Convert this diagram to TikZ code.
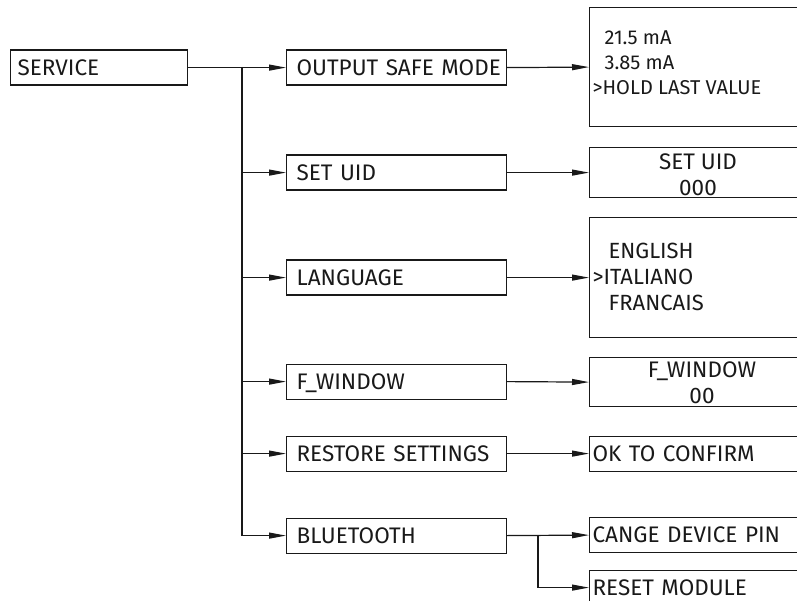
\documentclass[tikz,border=0pt]{standalone}
\usepackage{fontspec}
\setmainfont{Fira Sans}
\usetikzlibrary{arrows.meta}
\begin{document}
\begin{tikzpicture}[x=1pt,y=-1pt,line width=1.2pt,color={black!90},
  every node/.style={font=\fontsize{22.5}{27}\selectfont,text height=15.5pt,text depth=0pt},
  box/.style={draw,inner sep=0pt,anchor=north west,minimum height=35pt},
  midbox/.style={box,inner xsep=10pt,text width=200pt,align=left},
  rbox/.style={box,minimum width=240pt},
  rtbox/.style={box,inner xsep=3pt,text width=234pt,align=left},
  txt/.style={inner sep=0pt},
  listtxt/.style={txt,anchor=west,font=\fontsize{20}{24}\selectfont,text height=14pt},
  langtxt/.style={txt,anchor=west,font=\fontsize{22}{26}\selectfont,text height=15pt},
  arr/.style={-{Triangle[length=17pt,width=6pt]}}]
\useasboundingbox (0,0) rectangle (797,601);
\begin{scope}
\clip (0,0) rectangle (797,601);
% left and middle column
\node[box,inner xsep=7pt,text width=163pt,align=left] (service) at (10,49.5) {SERVICE};
\node[midbox] (osm) at (286,49.5) {\mbox{OUTPUT SAFE MODE}};
\node[midbox] (uid) at (286,154.5) {SET UID};
\node[midbox] (lang) at (286,259.5) {LANGUAGE};
\node[midbox] (fw) at (286,363.5) {F\_WINDOW};
\node[midbox] (rs) at (286,435.5) {RESTORE SETTINGS};
\node[midbox] (bt) at (286,517.5) {BLUETOOTH};
% right column
\node[rbox,minimum height=119pt] (osmv) at (589,7) {};
\node[listtxt] (o1) at (604,38) {21.5 mA};
\node[listtxt] (o2) at (604,62.7) {3.85 mA};
\node[listtxt] (o3) at (592,87.2) {>HOLD LAST VALUE};
\node[rbox,minimum height=50pt] (uidv) at (589,147) {};
\node[txt] (u1) at (698,161.5) {SET UID};
\node[txt] (u2) at (698,188) {000};
\node[rbox,minimum height=120pt] (langv) at (589,217) {};
\node[langtxt] (l1) at (608,251.3) {ENGLISH};
\node[langtxt] (l2) at (592,276.7) {>ITALIANO};
\node[langtxt] (l3) at (608,302.8) {FRANCAIS};
\node[rbox,minimum height=49pt] (fwv) at (589,357) {};
\node[txt] (f1) at (702,370) {F\_WINDOW};
\node[txt] (f2) at (702,395.5) {00};
\node[rtbox] (ok) at (589,435.5) {OK TO CONFIRM};
\node[rtbox] (pin) at (589,517) {CANGE DEVICE PIN};
\node[rtbox] (rm) at (589,569.5) {RESET MODULE};
% connectors
\coordinate (trunk) at (242,67);
\coordinate (br) at (538,535);
\draw[arr] (service.east) -- (osm.west);
\draw (trunk) -- (trunk |- bt.west);
\foreach \n in {uid,lang,fw,rs,bt} \draw[arr] (trunk |- \n.west) -- (\n.west);
\draw[arr] (osm.east) -- (osmv.west);
\draw[arr] (uid.east) -- (uidv.west);
\draw[arr] (lang.east) -- (langv.west);
\draw[arr] (fw.east) -- (fwv.west);
\draw[arr] (rs.east) -- (ok.west);
\draw[arr] (bt.east) -- (pin.west);
\draw[arr] (br) |- (rm.west);
\end{scope}
\end{tikzpicture}
\end{document}
